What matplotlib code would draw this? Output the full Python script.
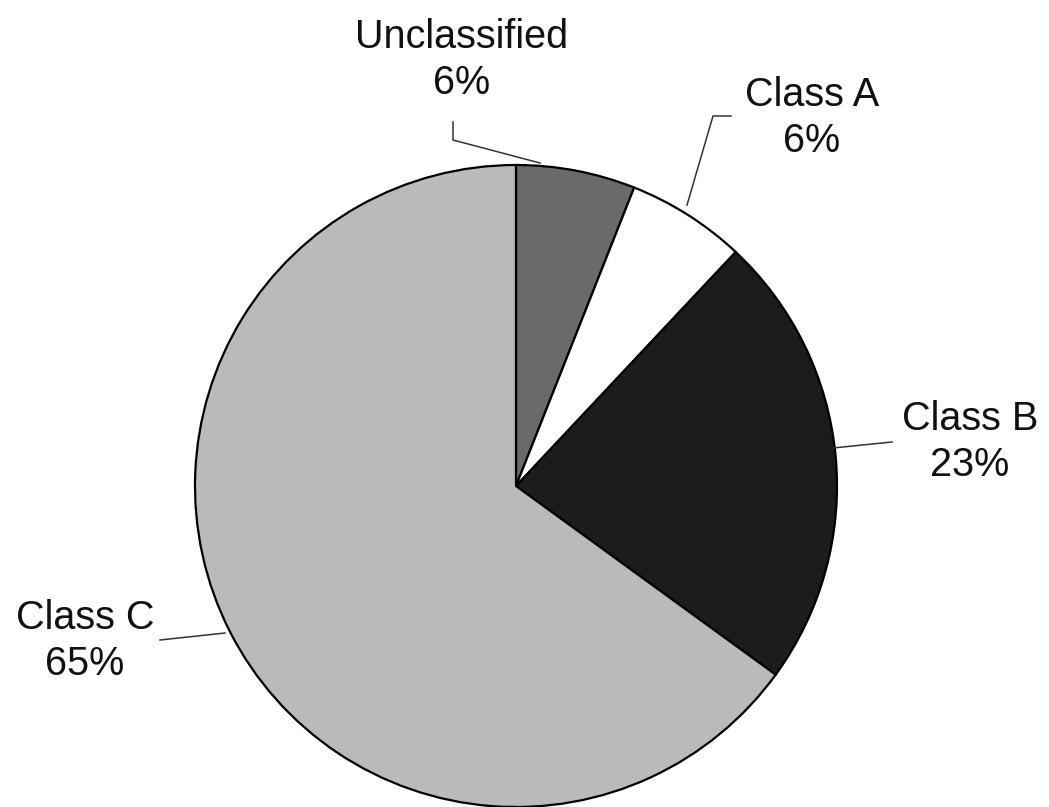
import matplotlib.pyplot as plt

# pie data, clockwise from 12 o'clock
labels = ["Unclassified", "Class A", "Class B", "Class C"]
shares = [6, 6, 23, 65]
colors = ["#6a6a6a", "#ffffff", "#1c1c1c", "#bababa"]

# label layout in pixels (x, y from top): text centre, leader line points
text_pos = [(462, 60), (812, 118), (970, 442), (85, 641)]
leaders = [
    [(453, 122), (453, 140), (540, 163)],
    [(731, 116), (713, 116), (687, 205)],
    [(892, 442), (833, 448)],
    [(160, 640), (225, 633)],
]

W, H = 1049, 807
CX, CY, R = 516, 486, 321

plt.rcParams['font.family'] = ['Liberation Sans', 'DejaVu Sans']

fig = plt.figure(figsize=(W / 100, H / 100), dpi=100)
ax = fig.add_axes([0, 0, 1, 1])

ax.pie(shares, colors=colors, startangle=90, counterclock=False,
       center=(CX, H - CY), radius=R,
       wedgeprops=dict(edgecolor="black", linewidth=1.6))
ax.set_xlim(0, W)
ax.set_ylim(0, H)
ax.set_aspect("equal")
ax.axis("off")

for name, pct, (tx, ty), pts in zip(labels, shares, text_pos, leaders):
    ax.text(tx, H - ty, f"{name}\n{pct}%", ha="center", va="center",
            fontsize=28.5, color="#111111", linespacing=1.25)
    xs = [p[0] for p in pts]
    ys = [H - p[1] for p in pts]
    ax.plot(xs, ys, color="#333333", linewidth=1.1)

fig.savefig("out.png", dpi=100)
